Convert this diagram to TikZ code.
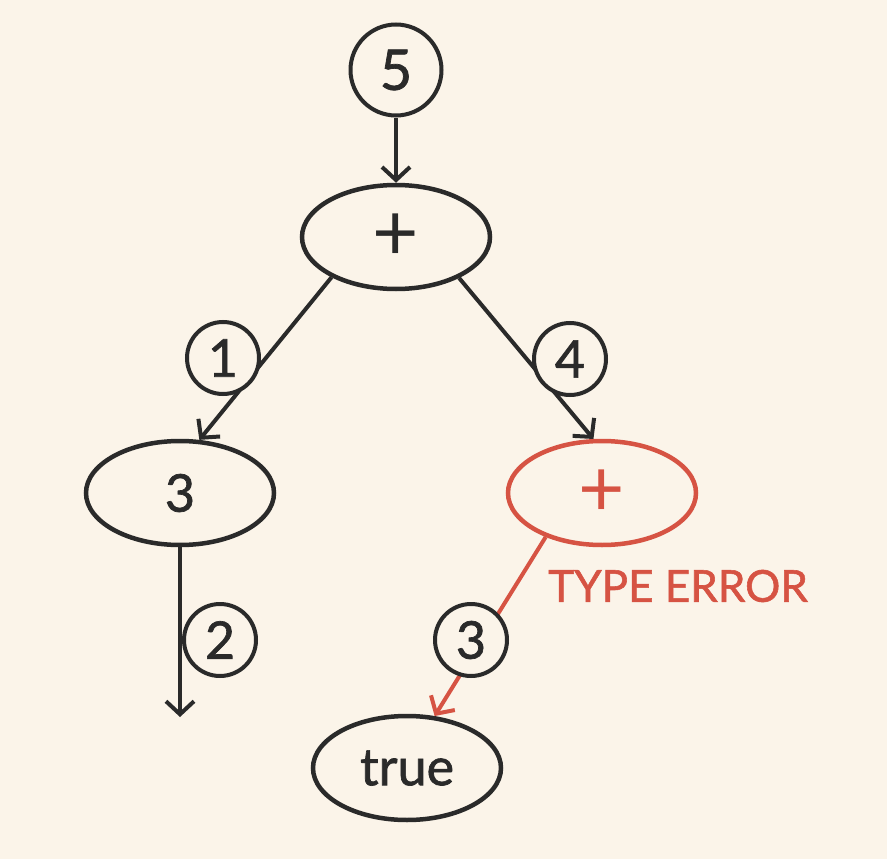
\documentclass[tikz,border=0pt]{standalone}
\usepackage{fontspec}
\setmainfont{Lato}
\newfontfamily\medfont{Lato}[FakeBold=1.3]
\usetikzlibrary{shapes.geometric,arrows.meta}
\definecolor{bg}{HTML}{FBF4E9}
\definecolor{ink}{HTML}{2A2A2A}
\definecolor{errred}{HTML}{D65343}
\tikzset{
  ellnode/.style={ellipse, draw=ink, line width=4.5pt, minimum width=188pt, minimum height=104pt, inner sep=0pt, text=ink, font=\medfont\fontsize{52}{60}\selectfont},
  numc/.style={circle, draw=ink, fill=bg, line width=4pt, minimum size=72pt, inner sep=0pt, text=ink, font=\medfont\fontsize{52}{60}\selectfont},
  bignumc/.style={numc, minimum size=91pt, font=\medfont\fontsize{56}{64}\selectfont},
  plusfont/.style={font=\fontsize{80}{84}\selectfont},
  arr/.style={draw=ink, line width=4pt, -{Straight Barb[length=13pt,width=28pt,line width=4pt]}},
  redarr/.style={arr, draw=errred},
  errtext/.style={text=errred, font=\medfont\fontsize{44}{50}\selectfont, anchor=west, inner sep=0pt}
}
\begin{document}
\begin{tikzpicture}[x=1pt,y=-1pt]
\fill[bg] (0,0) rectangle (887,859);
\useasboundingbox (0,0) rectangle (887,859);
% nodes
\node[ellnode, plusfont] (plus) at (396,237) {+};
\node[ellnode] (three) at (180,493) {3};
\node[ellnode, draw=errred, text=errred, plusfont] (redplus) at (602,493) {+};
\node[ellnode] (true) at (407,768) {true};
\coordinate (end2) at (180,717);
% connectors
\node[bignumc] (n5) at (396,70) {5};
\draw[arr] (n5) -- (plus);
\draw[arr] (plus.212) -- (three.70);
\draw[arr] (plus.327) -- (redplus.99);
\draw[arr] (three.south) -- (end2);
\draw[redarr] (redplus.218) -- (true.62);
% step labels
\node[numc] (n1) at (223,358) {1};
\node[numc] (n4) at (570,359) {4};
\node[numc] (n2) at (220,640) {2};
\node[numc] (n3) at (471,640) {3};
\node[errtext] (err) at (548,586) {TYPE ERROR};
\end{tikzpicture}
\end{document}
